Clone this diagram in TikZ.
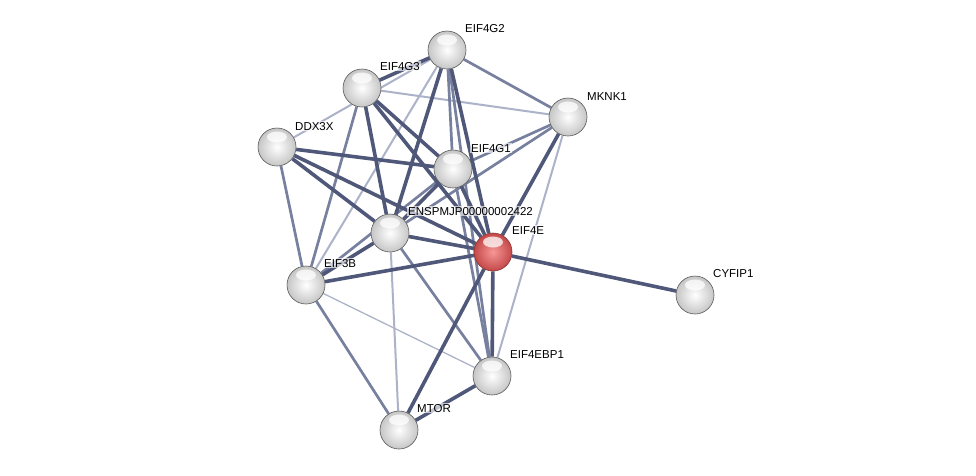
\documentclass[tikz,border=0pt]{standalone}
\usepackage{fontspec}
\setmainfont{Liberation Sans}
\pgfdeclarelayer{bg}
\pgfsetlayers{bg,main}
\definecolor{edk}{RGB}{80,88,122}
\definecolor{emd}{RGB}{120,128,160}
\definecolor{elt}{RGB}{172,178,200}
\definecolor{rdo}{RGB}{196,72,72}
\definecolor{rdi}{RGB}{246,150,150}
\tikzset{
  sph/.style={circle, minimum size=38pt, inner sep=0pt, draw=gray!70!black, line width=0.6pt,
    inner color=white, outer color=gray!45,
    path picture={\fill[white,opacity=0.75] ([yshift=-9pt]path picture bounding box.north) ellipse (10pt and 5.5pt);}},
  sphred/.style={sph, draw=rdo!70!black, inner color=rdi, outer color=rdo},
  lbl/.style={anchor=base west, inner sep=1pt, fill=white, fill opacity=0.65, text opacity=1,
    font=\fontsize{11.5}{13}\selectfont},
  ethick/.style={draw=edk, line width=3.6pt},
  emid/.style={draw=emd, line width=2.7pt},
  elight/.style={draw=elt, line width=2pt},
  ethin/.style={draw=elt, line width=1.3pt},
}
\begin{document}
\begin{tikzpicture}[x=1pt,y=-1pt]
\useasboundingbox (0,0) rectangle (976,475);
\node[sph] (g2) at (447,50) {};
\node[sph] (g3) at (362,88) {};
\node[sph] (mk) at (568,117) {};
\node[sph] (dd) at (277,147) {};
\node[sph] (g1) at (453,169) {};
\node[sph] (en) at (390,233) {};
\node[sphred] (e4) at (493,252) {};
\node[sph] (b3) at (306,285) {};
\node[sph] (cy) at (695,295) {};
\node[sph] (bp) at (492,376) {};
\node[sph] (mt) at (399,430) {};
\node[lbl] (lg2) at (464,32) {EIF4G2};
\node[lbl] (lg3) at (379,70) {EIF4G3};
\node[lbl] (lmk) at (586,100) {MKNK1};
\node[lbl] (ldd) at (294,130) {DDX3X};
\node[lbl] (lg1) at (470,152) {EIF4G1};
\node[lbl] (len) at (407,215) {ENSPMJP00000002422};
\node[lbl] (le4) at (511,234) {EIF4E};
\node[lbl] (lb3) at (323,267) {EIF3B};
\node[lbl] (lcy) at (712,277) {CYFIP1};
\node[lbl] (lbp) at (509,358) {EIF4EBP1};
\node[lbl] (lmt) at (416,412) {MTOR};
\begin{pgfonlayer}{bg}
% light
\draw[elight] (g2) -- (b3);
\draw[elight] (dd) -- (g2);
\draw[elight] (g3) -- (mk);
\draw[elight] (mk) -- (bp);
\draw[elight] (en) -- (mt);
\draw[ethin] (b3) -- (bp);
% medium
\draw[emid] (g2) -- (g1);
\draw[emid] (g2) -- (bp);
\draw[emid] (g2) -- (mk);
\draw[emid] (g3) -- (b3);
\draw[emid] (g1) -- (bp);
\draw[emid] (g1) -- (mk);
\draw[emid] (mk) -- (en);
\draw[emid] (en) -- (bp);
\draw[emid] (b3) -- (mt);
\draw[emid] (b3) -- (g1);
\draw[emid] (dd) -- (b3);
% thick
\draw[ethick] (g2) -- (g3);
\draw[ethick] (g2) -- (en);
\draw[ethick] (g2) -- (e4);
\draw[ethick] (g3) -- (g1);
\draw[ethick] (g3) -- (e4);
\draw[ethick] (g3) -- (en);
\draw[ethick] (dd) -- (g1);
\draw[ethick] (dd) -- (en);
\draw[ethick] (dd) -- (e4);
\draw[ethick] (g1) -- (en);
\draw[ethick] (g1) -- (e4);
\draw[ethick] (en) -- (e4);
\draw[ethick] (en) -- (b3);
\draw[ethick] (e4) -- (b3);
\draw[ethick] (e4) -- (cy);
\draw[ethick] (e4) -- (bp);
\draw[ethick] (e4) -- (mt);
\draw[ethick] (mk) -- (e4);
\draw[ethick] (bp) -- (mt);
\end{pgfonlayer}
\end{tikzpicture}
\end{document}
